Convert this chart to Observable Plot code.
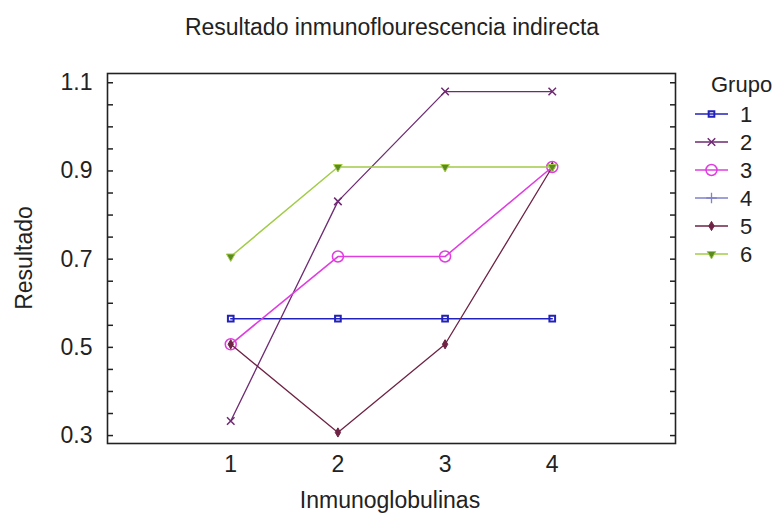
<!DOCTYPE html>
<html><head><meta charset="utf-8">
<script src="https://cdn.jsdelivr.net/npm/d3@7"></script>
<script src="https://cdn.jsdelivr.net/npm/@observablehq/plot@0.6"></script>
<style>body{margin:0;background:#fff}</style>
</head><body><div id="chart"></div>
<script>
// ---- data ----
const inmunoglobulinas = [1, 2, 3, 4];
const grupos = ["1", "2", "3", "4", "5", "6"];
const grupo1 = [0.565, 0.565, 0.565, 0.565];
const grupo2 = [0.333, 0.831, 1.08, 1.08];
const grupo3 = [0.507, 0.706, 0.706, 0.909];
const grupo4 = []; // appears only in the legend
const grupo5 = [0.507, 0.307, 0.507, 0.909];
const grupo6 = [0.706, 0.909, 0.909, 0.909];
const yTicks = [0.3, 0.5, 0.7, 0.9, 1.1];
const yMinorTicks = [0.3, 0.35, 0.4, 0.45, 0.5, 0.55, 0.6, 0.65, 0.7, 0.75, 0.8, 0.85, 0.9, 0.95, 1.0, 1.05, 1.1];
const xTicks = [1, 2, 3, 4];
const titleText = "Resultado inmunoflourescencia indirecta";
const xLabel = "Inmunoglobulinas";
const yLabel = "Resultado";
const legendTitle = "Grupo";

// ---- styles ----
const valuesByGroup = [grupo1, grupo2, grupo3, grupo4, grupo5, grupo6];
const styles = [
  {color: "#2222bb", symbol: "square", fill: "none", r: 3.2, sw: 1.5, msw: 2},
  {color: "#6e2a72", symbol: "times", fill: "none", r: 3.5, sw: 1.3, msw: 1.5},
  {color: "#e03ce0", symbol: "circle", fill: "none", r: 5.5, sw: 1.6, msw: 1.5},
  {color: "#8080cc", symbol: "plus", fill: "none", r: 3.5, sw: 1.3, msw: 1.3},
  {color: "#6e2244", symbol: "diamond", fill: "#6e2244", r: 2.8, sw: 1.3, msw: 1},
  {color: "#a2cc48", symbol: "triangle", fill: "#5a8a20", r: 3.2, sw: 1.5, msw: 1, rotate: 180}
];

const rows = valuesByGroup.flatMap((vals, g) =>
  vals.map((v, i) => ({x: inmunoglobulinas[i], y: v, grupo: grupos[g]})));

const marks = [];
grupos.forEach((g, k) => {
  const s = styles[k];
  const d = rows.filter(r => r.grupo === g);
  marks.push(Plot.line(d, {x: "x", y: "y", stroke: s.color, strokeWidth: s.sw}));
  marks.push(Plot.dot(d, {x: "x", y: "y", symbol: s.symbol, r: s.r, stroke: s.color,
    fill: s.fill, strokeWidth: s.msw, rotate: s.rotate || 0}));
});

const W = 775, H = 514;
const FS = 23;
const chart = Plot.plot({
  width: W, height: H,
  marginLeft: 107, marginRight: 100, marginTop: 73, marginBottom: 71,
  style: {fontFamily: "'Liberation Sans', Arial, sans-serif", background: "#fff", color: "#222"},
  x: {domain: [-0.15, 5.15]},
  y: {domain: [0.282, 1.121]},
  marks: [
    ...marks,
    Plot.axisY({ticks: yTicks, tickSize: 0, tickPadding: 15, fontSize: FS, tickFormat: d => d.toFixed(1), label: null}),
    Plot.axisY({ticks: yMinorTicks, tickSize: -6, tickFormat: () => "", label: null, strokeWidth: 1.5}),
    Plot.axisY({ticks: yMinorTicks, anchor: "right", tickSize: -6, tickFormat: () => "", label: null, strokeWidth: 1.5}),
    Plot.axisX({ticks: xTicks, tickSize: 0, tickPadding: 12, fontSize: FS, tickFormat: d => String(d), label: null}),
    Plot.frame({stroke: "#222", strokeWidth: 1.6})
  ]
});
document.getElementById("chart").appendChild(chart);

const svg = d3.select(chart);
const ff = "'Liberation Sans', Arial, sans-serif";
svg.append("text").attr("x", 392).attr("y", 35).attr("text-anchor", "middle")
  .attr("font-size", FS).attr("font-family", ff).attr("fill", "#222").text(titleText);
svg.append("text").attr("x", 390).attr("y", 508).attr("text-anchor", "middle")
  .attr("font-size", FS).attr("font-family", ff).attr("fill", "#222").text(xLabel);
svg.append("text").attr("transform", "translate(32,258) rotate(-90)").attr("text-anchor", "middle")
  .attr("font-size", FS).attr("font-family", ff).attr("fill", "#222").text(yLabel);

// legend
const lg = svg.append("g").attr("text-anchor", "start");
lg.append("text").attr("x", 711).attr("y", 92).attr("font-size", 22).attr("font-family", ff)
  .attr("text-anchor", "start").attr("fill", "#222").text(legendTitle);
const symMap = {square: d3.symbolSquare, times: d3.symbolTimes, circle: d3.symbolCircle,
  plus: d3.symbolPlus, diamond: d3.symbolDiamond, triangle: d3.symbolTriangle};
grupos.forEach((g, k) => {
  const s = styles[k];
  const cy = 114 + k * 28;
  lg.append("line").attr("x1", 695).attr("x2", 728).attr("y1", cy).attr("y2", cy)
    .attr("stroke", s.color).attr("stroke-width", s.sw);
  lg.append("path").attr("d", d3.symbol(symMap[s.symbol], Math.PI * s.r * s.r)())
    .attr("transform", `translate(711.5,${cy}) rotate(${s.rotate || 0})`)
    .attr("stroke", s.color).attr("fill", s.fill).attr("stroke-width", s.msw);
  lg.append("text").attr("x", 740).attr("y", cy + 8).attr("font-size", 22).attr("font-family", ff)
    .attr("text-anchor", "start").attr("fill", "#222").text(g);
});
</script></body></html>
